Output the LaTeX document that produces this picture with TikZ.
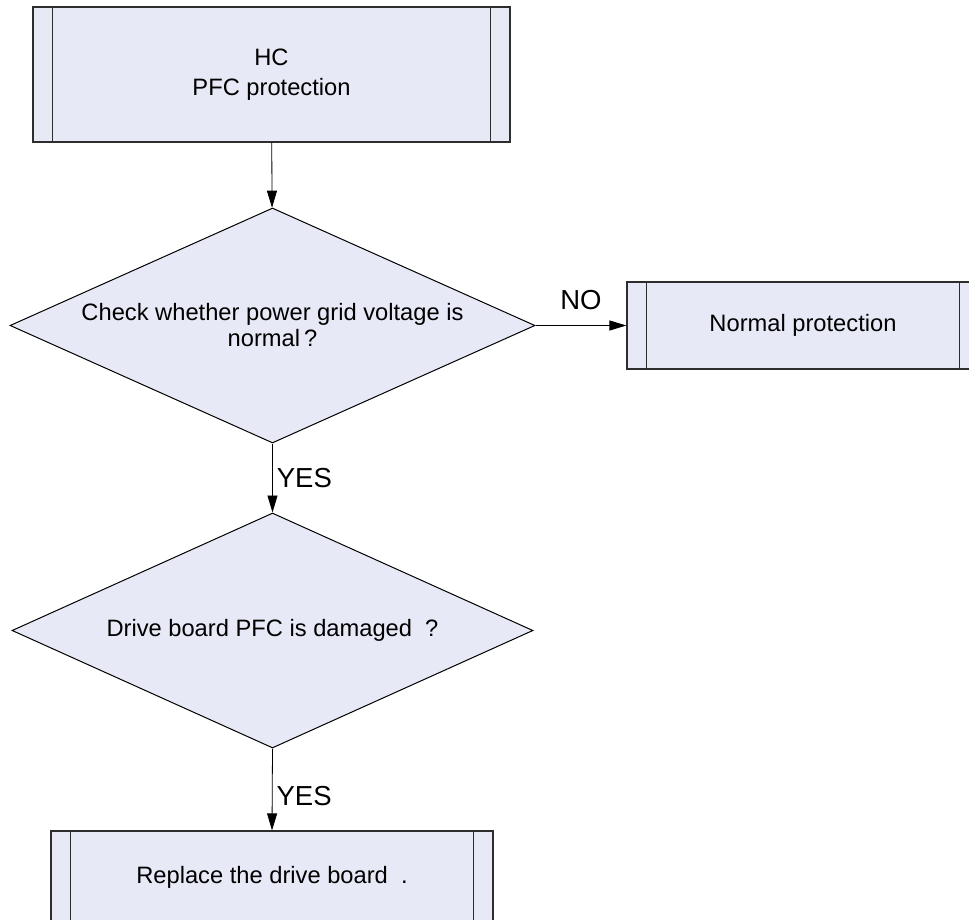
\documentclass[tikz,border=0pt]{standalone}
\usepackage{fontspec}
\setmainfont{Liberation Sans}
\usepackage{tikz}
\usetikzlibrary{arrows.meta,positioning,calc,shapes.geometric}
\definecolor{flowfill}{RGB}{231,234,246}
\definecolor{flowedge}{RGB}{45,45,45}

\begin{document}
\begin{tikzpicture}[x=1pt,y=-1pt,
  txt/.style={font=\fontsize{23.7}{28}\selectfont},
  lbl/.style={font=\fontsize{27.5}{30}\selectfont,inner sep=0pt},
  procbox/.style={draw=flowedge,line width=1.2pt,fill=flowfill,inner sep=0pt,align=center,txt},
  decision/.style={diamond,draw=black,line width=1pt,fill=flowfill,aspect=2.3,inner sep=0pt,align=center,txt},
  flow/.style={line width=0.8pt,-{Triangle[length=17pt,width=10pt]}}]
  \useasboundingbox (0,0) rectangle (969,920);
  \clip (0,0) rectangle (969,920);

  \node[procbox,minimum width=477pt,minimum height=135pt] (hc) at (271.5,74.5) {HC\\[2pt]PFC protection};
  \node[decision,minimum width=525pt,minimum height=235pt] (check) at (272.5,325.5)
    {Check whether power grid voltage is\\[-2pt]normal\,?};
  \node[procbox,minimum width=352pt,minimum height=87pt] (normal) at (803,325.5) {Normal protection};
  \node[decision,minimum width=521pt,minimum height=235pt] (damaged) at (272.5,630.5)
    {Drive board PFC is damaged \ ?};
  \node[procbox,minimum width=442pt,minimum height=92pt] (replace) at (272,877) {Replace the drive board \ .};

  % side bars of the process boxes
  \foreach \n in {hc,normal,replace} {
    \draw[flowedge,line width=1pt] ([xshift=20pt]\n.north west) -- ([xshift=20pt]\n.south west);
    \draw[flowedge,line width=1pt] ([xshift=-20pt]\n.north east) -- ([xshift=-20pt]\n.south east);
  }

  \draw[flow] (hc) -- (check);
  \draw[flow] (check.east) -- node[lbl,above=15pt] (no) {NO} (normal.west);
  \draw[flow] (check.south) -- node[lbl,right=4pt,pos=.5] (yes1) {YES} (damaged.north);
  \draw[flow] (damaged.south) -- node[lbl,right=4pt,pos=.58] (yes2) {YES} (replace.north);
\end{tikzpicture}
\end{document}
